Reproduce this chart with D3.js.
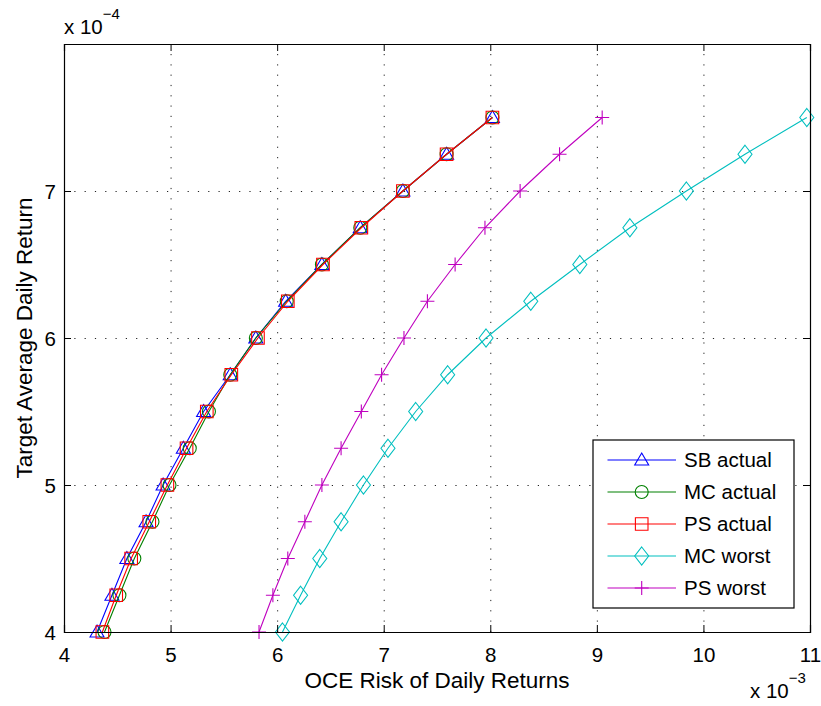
<!DOCTYPE html>
<html>
<head>
<meta charset="utf-8">
<script src="https://cdn.jsdelivr.net/npm/d3@7"></script>
<style>
  body { margin: 0; background: #fff; }
  svg { font-family: "Liberation Sans", Arial, sans-serif; }
</style>
</head>
<body>
<div id="chart-area"></div>
<script>
// target average daily return (x 10^-4)
const targets = [4, 4.25, 4.5, 4.75, 5, 5.25, 5.5, 5.75, 6, 6.25, 6.5, 6.75, 7, 7.25, 7.5]

// OCE risk of daily returns (x 10^-3), one list per series
const sbActual = [4.31, 4.45, 4.59, 4.77, 4.93, 5.12, 5.31, 5.56, 5.80, 6.08, 6.42, 6.78, 7.18, 7.59, 8.02]
const mcActual = [4.38, 4.52, 4.66, 4.83, 4.99, 5.18, 5.36, 5.56, 5.80, 6.09, 6.42, 6.78, 7.18, 7.59, 8.02]
const psActual = [4.36, 4.49, 4.63, 4.80, 4.97, 5.15, 5.34, 5.57, 5.82, 6.10, 6.43, 6.79, 7.18, 7.59, 8.02]
const mcWorst = [6.05, 6.22, 6.40, 6.60, 6.81, 7.04, 7.30, 7.60, 7.96, 8.38, 8.84, 9.31, 9.84, 10.39, 10.97]
const psWorst = [5.83, 5.96, 6.10, 6.26, 6.42, 6.60, 6.79, 6.98, 7.19, 7.41, 7.67, 7.95, 8.28, 8.65, 9.05]

const seriesNames = ["SB actual", "MC actual", "PS actual", "MC worst", "PS worst"]
const xTicks = [4, 5, 6, 7, 8, 9, 10, 11]
const yTicks = [4, 5, 6, 7]

const series = [
  { name: seriesNames[0], values: sbActual, color: "#0000ff", marker: "triangle" },
  { name: seriesNames[1], values: mcActual, color: "#008000", marker: "circle" },
  { name: seriesNames[2], values: psActual, color: "#ff0000", marker: "square" },
  { name: seriesNames[3], values: mcWorst, color: "#00bfbf", marker: "diamond" },
  { name: seriesNames[4], values: psWorst, color: "#bf00bf", marker: "plus" }
]

const MARGIN = { left: 64, top: 44 }
const WIDTH = 746
const HEIGHT = 588
const TICK = 7

const svg = d3.select("#chart-area")
  .append("svg")
  .attr("width", 821)
  .attr("height", 706)

const g = svg.append("g")
  .attr("transform", `translate(${MARGIN.left}, ${MARGIN.top})`)

const x = d3.scaleLinear().domain([4, 11]).range([0, WIDTH])
const y = d3.scaleLinear().domain([4, 8]).range([HEIGHT, 0])

// grid
g.append("g")
  .attr("class", "grid")
  .attr("transform", `translate(0, ${HEIGHT})`)
  .call(d3.axisBottom(x).tickValues(xTicks).tickSize(-HEIGHT).tickFormat(""))
g.append("g")
  .attr("class", "grid")
  .call(d3.axisLeft(y).tickValues(yTicks).tickSize(-WIDTH).tickFormat(""))
g.selectAll(".grid .domain").remove()
g.selectAll(".grid line")
  .attr("stroke", "#222")
  .attr("stroke-width", 1)
  .attr("stroke-dasharray", "1.2,9.1")

// markers
function markerPath(type) {
  switch (type) {
    case "triangle": return "M0,-7L7,5L-7,5Z"
    case "circle": return d3.symbol(d3.symbolCircle, Math.PI * 6.5 * 6.5)()
    case "square": return "M-6.3,-6.3H6.3V6.3H-6.3Z"
    case "diamond": return "M0,-9L7,0L0,9L-7,0Z"
    case "plus": return "M-7,0H7M0,-7V7"
  }
}

const line = d3.line()
  .x(d => x(d[0]))
  .y(d => y(d[1]))

series.forEach(s => {
  const pts = s.values.map((v, i) => [v, targets[i]])
  const sg = g.append("g").attr("class", "series")
  sg.append("path")
    .attr("d", line(pts))
    .attr("fill", "none")
    .attr("stroke", s.color)
    .attr("stroke-width", 1.1)
  sg.selectAll(".mark")
    .data(pts)
    .enter().append("path")
    .attr("class", "mark")
    .attr("transform", d => `translate(${x(d[0])}, ${y(d[1])})`)
    .attr("d", markerPath(s.marker))
    .attr("fill", "none")
    .attr("stroke", s.color)
    .attr("stroke-width", 1.1)
})

// axes, ticks inside on all four sides
const xAxis = g.append("g")
  .attr("transform", `translate(0, ${HEIGHT})`)
  .call(d3.axisBottom(x).tickValues(xTicks).tickSize(-TICK).tickPadding(0).tickFormat(d3.format("d")))
xAxis.selectAll("text")
  .attr("y", 30)
  .attr("dy", 0)
g.append("g")
  .call(d3.axisTop(x).tickValues(xTicks).tickSize(-TICK).tickFormat(""))

const yAxis = g.append("g")
  .call(d3.axisLeft(y).tickValues(yTicks).tickSize(-TICK).tickPadding(0).tickFormat(d3.format("d")))
yAxis.selectAll("text")
  .attr("x", -8)
  .attr("dy", "0.36em")
g.append("g")
  .attr("transform", `translate(${WIDTH}, 0)`)
  .call(d3.axisRight(y).tickValues(yTicks).tickSize(-TICK).tickFormat(""))

g.selectAll(".domain").attr("stroke", "#000").attr("stroke-width", 1.2)
g.selectAll(".tick line").filter(function () {
  return this.parentNode.parentNode.getAttribute("class") !== "grid"
}).attr("stroke", "#000")
g.selectAll(".tick text")
  .attr("font-size", "20.5px")
  .attr("font-family", "Liberation Sans, Arial, sans-serif")
  .attr("fill", "#000")

// X label
g.append("text")
  .attr("x", WIDTH / 2)
  .attr("y", HEIGHT + 56)
  .attr("font-size", "22.5px")
  .attr("text-anchor", "middle")
  .text("OCE Risk of Daily Returns")

// Y label
g.append("text")
  .attr("x", -(HEIGHT / 2))
  .attr("y", -32)
  .attr("font-size", "22.5px")
  .attr("text-anchor", "middle")
  .attr("transform", "rotate(-90)")
  .text("Target Average Daily Return")

// exponent labels
const expTop = g.append("text")
  .attr("x", 0)
  .attr("y", -10)
  .attr("font-size", "20.5px")
expTop.append("tspan").text("x 10")
expTop.append("tspan").attr("font-size", "15px").attr("dy", -15).text("\u22124")

const expBottom = g.append("text")
  .attr("x", 686)
  .attr("y", HEIGHT + 66)
  .attr("font-size", "20.5px")
expBottom.append("tspan").text("x 10")
expBottom.append("tspan").attr("font-size", "15px").attr("dy", -15).text("\u22123")

// legend
const legend = g.append("g")
  .attr("transform", `translate(529, 396)`)
legend.append("rect")
  .attr("width", 201)
  .attr("height", 168)
  .attr("fill", "#fff")
  .attr("stroke", "#000")
  .attr("stroke-width", 1.2)

const items = legend.selectAll(".item")
  .data(series)
  .enter().append("g")
  .attr("class", "item")
  .attr("transform", (d, i) => `translate(0, ${20 + i * 32})`)
items.append("line")
  .attr("x1", 14.5)
  .attr("x2", 83)
  .attr("stroke", d => d.color)
  .attr("stroke-width", 1.1)
items.append("path")
  .attr("transform", "translate(48.7, 0)")
  .attr("d", d => markerPath(d.marker))
  .attr("fill", "none")
  .attr("stroke", d => d.color)
  .attr("stroke-width", 1.1)
items.append("text")
  .attr("x", 91)
  .attr("dy", "0.36em")
  .attr("font-size", "20.5px")
  .text(d => d.name)
</script>
</body>
</html>
